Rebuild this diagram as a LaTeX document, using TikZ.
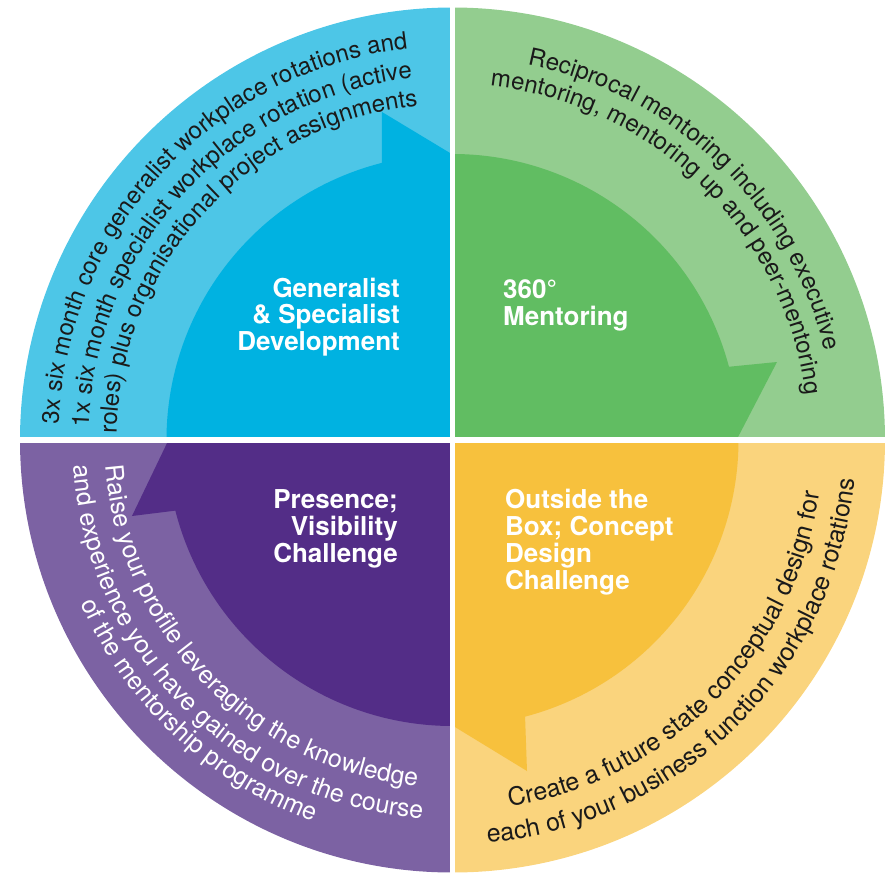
\documentclass[tikz,border=0pt]{standalone}
\usepackage{fontspec}
\setmainfont{TeX Gyre Heros}
\usetikzlibrary{decorations.text}
\definecolor{blueL}{HTML}{4DC6E7}
\definecolor{blueD}{HTML}{00B2E1}
\definecolor{greenL}{HTML}{93CD8F}
\definecolor{greenD}{HTML}{61BD62}
\definecolor{yellowL}{HTML}{FAD47D}
\definecolor{yellowD}{HTML}{F7C13D}
\definecolor{purpleL}{HTML}{7C62A3}
\definecolor{purpleD}{HTML}{532D87}
\definecolor{txtdark}{HTML}{1A1A1A}
\newcommand\arcfontA{\fontsize{24}{24}\selectfont}
\newcommand\arcfontB{\fontsize{25}{25}\selectfont}
\begin{document}
\begin{tikzpicture}[x=1pt,y=1pt,
  title/.style={font=\fontsize{26}{27}\selectfont\bfseries, text=white, inner sep=0pt},
  titleR/.style={title, anchor=base east},
  titleL/.style={title, anchor=base west}]
\useasboundingbox (-452.5,-433) rectangle (437.5,440);
% outer rings
\fill[blueL] (0,0) -- (180:432.5pt) arc[start angle=180, end angle=90, radius=432.5pt] -- cycle;
\fill[greenL] (0,0) -- (90:432.5pt) arc[start angle=90, end angle=0, radius=432.5pt] -- cycle;
\fill[yellowL] (0,0) -- (0:432.5pt) arc[start angle=0, end angle=-90, radius=432.5pt] -- cycle;
\fill[purpleL] (0,0) -- (-90:432.5pt) arc[start angle=-90, end angle=-180, radius=432.5pt] -- cycle;
% inner arrows
\fill[blueD] (0,0) -- (180:286pt) arc[start angle=180, end angle=104.3, radius=286pt] -- (-70.5,328) -- (0,285.5) -- cycle;
\fill[greenD] (0,0) -- (90:286pt) arc[start angle=90, end angle=14.84, radius=286pt] -- (324.5,78) -- (284,0) -- cycle;
\fill[yellowD] (0,0) -- (0:286pt) arc[start angle=0, end angle=-75.3, radius=286pt] -- (74.5,-331) -- (0,-285.5) -- cycle;
\fill[purpleD] (0,0) -- (-90:286pt) arc[start angle=-90, end angle=-165.7, radius=286pt] -- (-320.5,-76) -- (-284,0) -- cycle;
% gaps
\fill[white] (-2.5,-440) rectangle (2.5,440);
\fill[white] (-440,-3) rectangle (440,3);
% titles
\node[titleR] (tl1) at (-52.5,143) {Generalist};
\node[titleR] (tl2) at (-52.5,116.5) {\& Specialist};
\node[titleR] (tl3) at (-52.5,90) {Development};
\node[titleL] (tr1) at (50.5,142) {360°};
\node[titleL] (tr2) at (50.5,115) {Mentoring};
\node[titleR] (bl1) at (-54.5,-68) {Presence;};
\node[titleR] (bl2) at (-54.5,-95) {Visibility};
\node[titleR] (bl3) at (-54.5,-122) {Challenge};
\node[titleL] (br1) at (52.5,-68) {Outside the};
\node[titleL] (br2) at (52.5,-95) {Box; Concept};
\node[titleL] (br3) at (52.5,-122) {Design};
\node[titleL] (br4) at (52.5,-149) {Challenge};
% arc texts TL
\path[decorate, decoration={text along path, text align=center, text={|\color{txtdark}\arcfontA|3x six month core generalist workplace rotations and}}] (178.1:394pt) arc[start angle=178.1, end angle=96.2, radius=394pt];
\path[decorate, decoration={text along path, text align=center, text={|\color{txtdark}\arcfontA|1x six month specialist workplace rotation (active}}] (177.9:364pt) arc[start angle=177.9, end angle=96.5, radius=364pt];
\path[decorate, decoration={text along path, text align=center, text={|\color{txtdark}\arcfontA|roles) plus organisational project assignments}}] (178:336pt) arc[start angle=178, end angle=96.9, radius=336pt];
% TR
\path[decorate, decoration={text along path, text align=center, text={|\color{txtdark}\arcfontA|Reciprocal mentoring including executive}}] (78.4:383pt) arc[start angle=78.4, end angle=13.8, radius=383pt];
\path[decorate, decoration={text along path, text align=center, text={|\color{txtdark}\arcfontA|mentoring, mentoring up and peer-mentoring}}] (84:356pt) arc[start angle=84, end angle=7.2, radius=356pt];
% BR
\path[decorate, decoration={text along path, text align=center, text={|\color{txtdark}\arcfontB|Create a future state conceptual design for}}] (278.7:371pt) arc[start angle=278.7, end angle=351.9, radius=371pt];
\path[decorate, decoration={text along path, text align=center, text={|\color{txtdark}\arcfontB|each of your business function workplace rotations}}] (274.8:404pt) arc[start angle=274.8, end angle=354.6, radius=404pt];
% BL
\path[decorate, decoration={text along path, text align=center, text={|\color{white}\arcfontB|Raise your profile leveraging the knowledge}}] (184.2:348pt) arc[start angle=184.2, end angle=264.2, radius=348pt];
\path[decorate, decoration={text along path, text align=center, text={|\color{white}\arcfontB|and experience you have gained over the course}}] (183.4:380pt) arc[start angle=183.4, end angle=265.9, radius=380pt];
\path[decorate, decoration={text along path, text align=center, text={|\color{white}\arcfontB|of the mentorship programme}}] (203.7:406pt) arc[start angle=203.7, end angle=250, radius=406pt];
\end{tikzpicture}
\end{document}
